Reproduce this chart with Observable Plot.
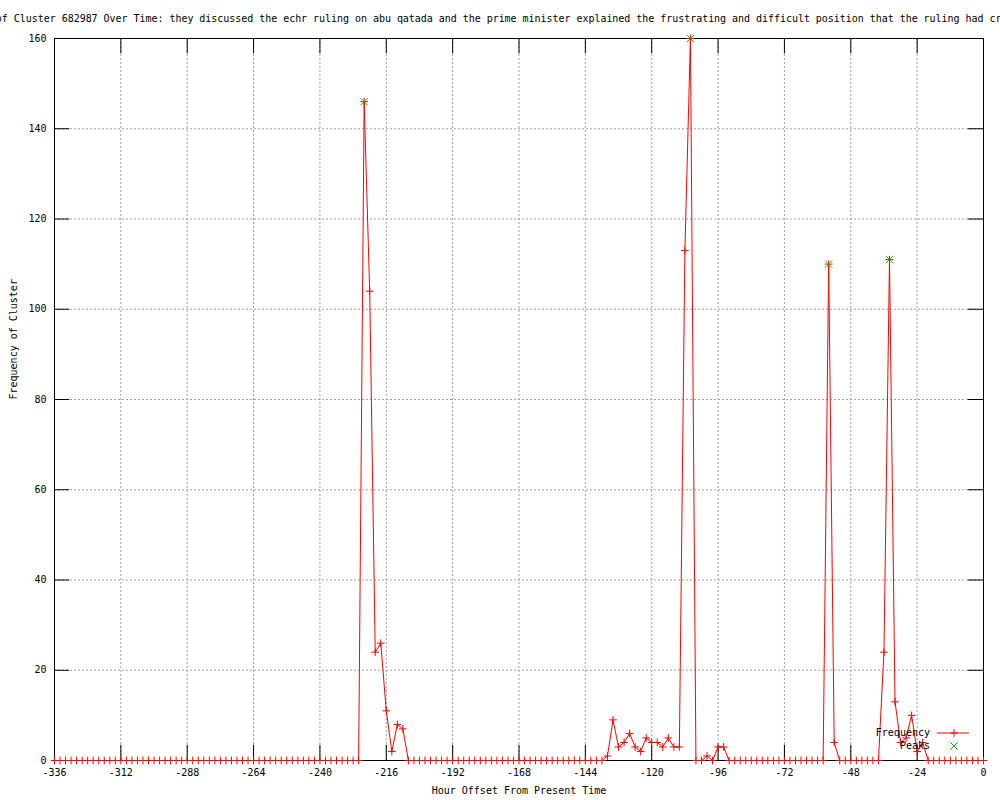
<!DOCTYPE html>
<html>
<head>
<meta charset="utf-8">
<script src="https://cdn.jsdelivr.net/npm/d3@7"></script>
<script src="https://cdn.jsdelivr.net/npm/@observablehq/plot@0.6"></script>
<style>
  body { margin: 0; background: #fff; }
  #wrap { position: relative; width: 1000px; height: 800px; overflow: hidden; font-family: "DejaVu Sans Mono", monospace; }
  #title { position: absolute; left: -64px; top: 13px; white-space: nowrap; font-size: 10px; line-height: 12px; letter-spacing: -0.035px; color: #000; }
  #chart { position: absolute; left: 0; top: 0; }
</style>
</head>
<body>
<div id="wrap">
  <div id="chart"></div>
  <div id="title"></div>
</div>
<script>
// ---------------- data ----------------
const titleText = "Frequency of Cluster 682987 Over Time: they discussed the echr ruling on abu qatada and the prime minister explained the frustrating and difficult position that the ruling had created";
const xLabel = "Hour Offset From Present Time";
const yLabel = "Frequency of Cluster";

// hour offsets: -336 .. 0, one sample every 2 hours
const hourStart = -336;
const hourStep = 2;

// frequency per 2-hour sample (169 values, from -336 to 0)
const frequency = [
  0,0,0,0,0,0,0,0,0,0,   // -336 .. -318
  0,0,0,0,0,0,0,0,0,0,   // -316 .. -298
  0,0,0,0,0,0,0,0,0,0,   // -296 .. -278
  0,0,0,0,0,0,0,0,0,0,   // -276 .. -258
  0,0,0,0,0,0,0,0,0,0,   // -256 .. -238
  0,0,0,0,0,0,           // -236 .. -226
  146,104,24,26,11,2,8,7, // -224 .. -210
  0,0,0,0,0,0,0,0,0,0,   // -208 .. -190
  0,0,0,0,0,0,0,0,0,0,   // -188 .. -170
  0,0,0,0,0,0,0,0,0,0,   // -168 .. -150
  0,0,0,0,0,0,           // -148 .. -138
  1,9,3,4,6,3,2,5,4,4,   // -136 .. -118
  3,5,3,3,113,160,0,0,1,0, // -116 .. -98
  3,3,                   // -96 .. -94
  0,0,0,0,0,0,0,0,0,0,   // -92 .. -74
  0,0,0,0,0,0,0,0,       // -72 .. -58
  110,4,                 // -56 .. -54
  0,0,0,0,0,0,0,0,       // -52 .. -38
  24,111,13,4,5,10,2,4,  // -36 .. -22
  0,0,0,0,0,0,0,0,0,0,0  // -20 .. 0
];

const peakHours = [-224, -106, -56, -34];
const peakValues = [146, 160, 110, 111];

const xTicks = [-336, -312, -288, -264, -240, -216, -192, -168, -144, -120, -96, -72, -48, -24, 0];
const yTicks = [0, 20, 40, 60, 80, 100, 120, 140, 160];

const legendLabels = ["Frequency", "Peaks"];

// ---------------- build ----------------
const series = frequency.map((v, i) => ({hour: hourStart + i * hourStep, freq: v}));
const peaks = peakHours.map((h, i) => ({hour: h, freq: peakValues[i]}));

document.getElementById("title").textContent = titleText;

const red = "#ff0000";
const green = "#00c000";
const gridColor = "#a0a0a0";
const tickLenX = 3.4;   // in y units (inward ticks on bottom/top)
const tickLenY = 5.5;   // in x units (inward ticks on left/right)

const chart = Plot.plot({
  width: 1000,
  height: 800,
  marginLeft: 54,
  marginRight: 17,
  marginTop: 38,
  marginBottom: 40,
  style: {fontFamily: "'DejaVu Sans Mono', monospace", fontSize: "10px", background: "#fff", color: "#000"},
  x: {domain: [-336, 0], ticks: xTicks, tickFormat: d => String(d), tickSize: 0, tickPadding: 8, label: null},
  y: {domain: [0, 160], ticks: yTicks, tickSize: 0, tickPadding: 8, label: null},
  marks: [
    Plot.gridX(xTicks, {stroke: gridColor, strokeOpacity: 1, strokeDasharray: "2,2"}),
    Plot.gridY(yTicks, {stroke: gridColor, strokeOpacity: 1, strokeDasharray: "2,2"}),
    Plot.ruleX(xTicks, {x: d => d, y1: 0, y2: tickLenX, stroke: "#000"}),
    Plot.ruleX(xTicks, {x: d => d, y1: 160, y2: 160 - tickLenX, stroke: "#000"}),
    Plot.ruleY(yTicks, {y: d => d, x1: -336, x2: -336 + tickLenY, stroke: "#000"}),
    Plot.ruleY(yTicks, {y: d => d, x1: 0, x2: -tickLenY, stroke: "#000"}),
    Plot.frame({stroke: "#000"}),
    Plot.line(series, {x: "hour", y: "freq", stroke: red, strokeWidth: 1}),
    Plot.dot(series, {x: "hour", y: "freq", symbol: "plus", r: 2.6, stroke: red, strokeWidth: 1, fill: "none"}),
    Plot.dot(peaks, {x: "hour", y: "freq", symbol: "times", r: 3.4, stroke: green, strokeWidth: 1, fill: "none"}),
    Plot.text([xLabel], {frameAnchor: "bottom", dy: 33, fontSize: 10}),
    Plot.text([yLabel], {frameAnchor: "left", dx: -41, rotate: -90, fontSize: 10})
  ]
});

document.getElementById("chart").appendChild(chart);

// ---------------- legend (key, bottom right inside frame) ----------------
const svg = d3.select(chart);
const xs = chart.scale("x"), ys = chart.scale("y");
const rightX = xs.apply(0), bottomY = ys.apply(0);
const legend = svg.append("g").attr("font-family", "'DejaVu Sans Mono', monospace").attr("font-size", 10);
const rowY = [bottomY - 27, bottomY - 14];
const textX = rightX - 53;
const sampleX1 = rightX - 46, sampleX2 = rightX - 14, sampleMid = rightX - 29;
legendLabels.forEach((lab, i) => {
  legend.append("text").attr("x", textX).attr("y", rowY[i]).attr("dy", "0.32em")
    .attr("text-anchor", "end").attr("fill", "#000").text(lab);
});
legend.append("line").attr("x1", sampleX1).attr("x2", sampleX2).attr("y1", rowY[0]).attr("y2", rowY[0]).attr("stroke", red);
legend.append("path").attr("d", d3.symbol(d3.symbolPlus, Math.PI * 2.6 * 2.6)()).attr("transform", `translate(${sampleMid},${rowY[0]})`).attr("stroke", red).attr("fill", "none");
legend.append("path").attr("d", d3.symbol(d3.symbolTimes, Math.PI * 3.4 * 3.4)()).attr("transform", `translate(${sampleMid},${rowY[1]})`).attr("stroke", green).attr("fill", "none");
</script>
</body>
</html>
